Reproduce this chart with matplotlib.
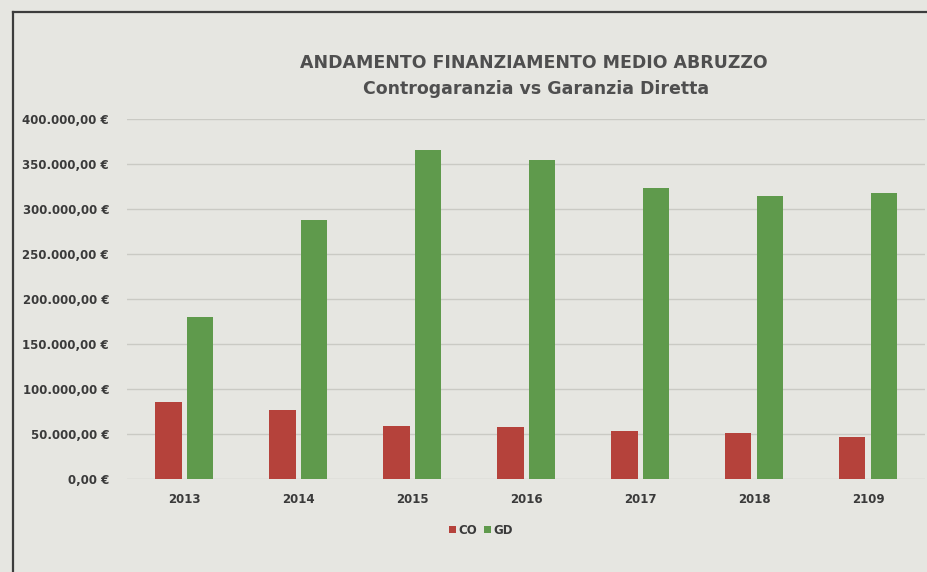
import matplotlib.pyplot as plt
from matplotlib.lines import Line2D
from matplotlib.ticker import FuncFormatter
import numpy as np

# Data
years = ['2013', '2014', '2015', '2016', '2017', '2018', '2109']
co = [85600, 76700, 58900, 57800, 53300, 51000, 46700]
gd = [180000, 287800, 365600, 354000, 323000, 314000, 318000]

bg = '#e6e6e1'
red = '#b5423b'
green = '#5f9a4c'
text_col = '#3a3a3a'

fig = plt.figure(figsize=(9.28, 5.72), dpi=100, facecolor=bg)
ax = fig.add_axes([0.137, 0.1626, 0.8598, 0.6294])
ax.set_facecolor(bg)

x = np.arange(len(years))
w = 0.235
ax.bar(x - 0.14, co, w, color=red, label='CO', zorder=3)
ax.bar(x + 0.14, gd, w, color=green, label='GD', zorder=3)

ax.set_xlim(-0.5, len(years) - 0.5)
ax.set_ylim(0, 400000)
ax.set_yticks(np.arange(0, 400001, 50000))
ax.yaxis.set_major_formatter(FuncFormatter(
    lambda v, p: '{:,.2f} €'.format(v).replace(',', 'X').replace('.', ',').replace('X', '.')))
ax.set_xticks(x)
ax.set_xticklabels(years)
ax.grid(axis='y', color='#cacac4', lw=1, zorder=0)
for s in ax.spines.values():
    s.set_visible(False)
ax.tick_params(axis='y', length=0, pad=13, labelsize=8.5, labelcolor=text_col)
ax.tick_params(axis='x', length=0, pad=10, labelsize=8.5, labelcolor=text_col)
for lbl in ax.get_xticklabels() + ax.get_yticklabels():
    lbl.set_fontweight('bold')

# Titles
fig.text(0.575, 1 - 63 / 572, 'ANDAMENTO FINANZIAMENTO MEDIO ABRUZZO',
         ha='center', va='center', fontsize=12.5, fontweight='bold', color='#4f4f4f')
fig.text(0.578, 1 - 89 / 572, 'Controgaranzia vs Garanzia Diretta',
         ha='center', va='center', fontsize=12.5, fontweight='bold', color='#4f4f4f')

# Legend
leg = fig.legend(loc='center', bbox_to_anchor=(481 / 928, 1 - 530 / 572), ncol=2,
                 frameon=False, fontsize=8.5, handlelength=0.6, handleheight=0.6,
                 handletextpad=0.2, columnspacing=0.6, labelcolor=text_col)
for t in leg.get_texts():
    t.set_fontweight('bold')

# Frame of the newspaper box (left and top edges)
fig.add_artist(Line2D([13 / 928, 13 / 928], [0, 1 - 12 / 572], color='#3c3c3c', lw=1.6))
fig.add_artist(Line2D([13 / 928, 1], [1 - 12 / 572, 1 - 12 / 572], color='#3c3c3c', lw=1.6))

fig.savefig('out.png', dpi=100, facecolor=bg)
